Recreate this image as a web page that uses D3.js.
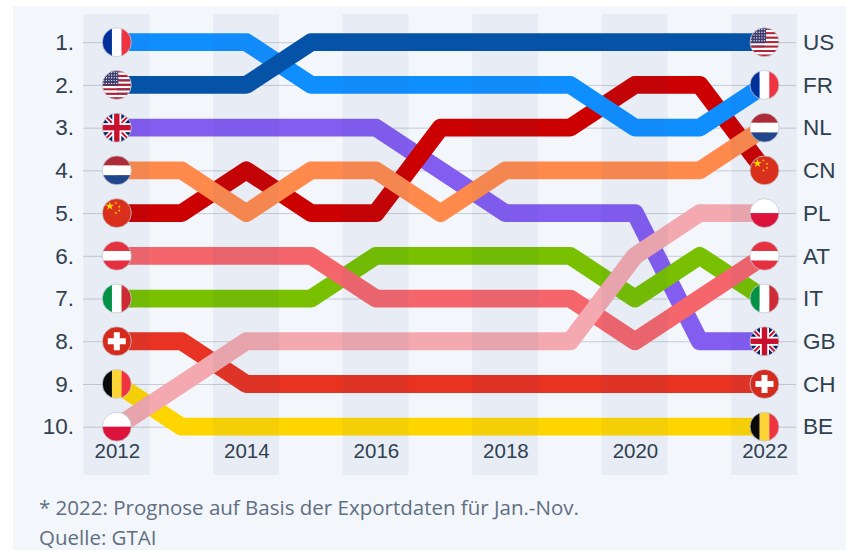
<!DOCTYPE html>
<html>
<head>
<meta charset="utf-8">
<script src="https://cdn.jsdelivr.net/npm/d3@7"></script>
<style>
  html, body { margin: 0; background: #fff; }
  svg { display: block; font-family: "Open Sans", sans-serif; }
  .domain { display: none; }
  .rank-axis line { stroke: #c6ccd5; }
  .rank-axis text, .code-axis text { font-size: 22.5px; fill: #2f4050; }
  .year-axis text { font-size: 20.5px; fill: #2f4050; }
  .note { font-size: 20.5px; fill: #5f6f82; }
</style>
</head>
<body>
<div id="chart"></div>
<script>
const years = [2012, 2013, 2014, 2015, 2016, 2017, 2018, 2019, 2020, 2021, 2022];
const ranks = [1, 2, 3, 4, 5, 6, 7, 8, 9, 10];
const yearTicks = [2012, 2014, 2016, 2018, 2020, 2022];
const bandYears = [2012, 2014, 2016, 2018, 2020, 2022];

// drawing order matters, later ones sit on top at the crossings
const codes = ['CH', 'BE', 'GB', 'CN', 'NL', 'FR', 'US', 'IT', 'AT', 'PL'];

const rankFR = [1, 1, 1, 2, 2, 2, 2, 2, 3, 3, 2];
const rankUS = [2, 2, 2, 1, 1, 1, 1, 1, 1, 1, 1];
const rankGB = [3, 3, 3, 3, 3, 4, 5, 5, 5, 8, 8];
const rankNL = [4, 4, 5, 4, 4, 5, 4, 4, 4, 4, 3];
const rankCN = [5, 5, 4, 5, 5, 3, 3, 3, 2, 2, 4];
const rankAT = [6, 6, 6, 6, 7, 7, 7, 7, 8, 7, 6];
const rankIT = [7, 7, 7, 7, 6, 6, 6, 6, 7, 6, 7];
const rankCH = [8, 8, 9, 9, 9, 9, 9, 9, 9, 9, 9];
const rankBE = [9, 10, 10, 10, 10, 10, 10, 10, 10, 10, 10];
const rankPL = [10, 9, 8, 8, 8, 8, 8, 8, 6, 5, 5];

const series = { FR: rankFR, US: rankUS, GB: rankGB, NL: rankNL, CN: rankCN,
                 AT: rankAT, IT: rankIT, CH: rankCH, BE: rankBE, PL: rankPL };

const lineColors = { FR: '#0f8fff', US: '#0553a8', GB: '#835cf0', NL: '#ff8a4c', CN: '#cc0000',
                     AT: '#f4666c', IT: '#78c000', CH: '#e83323', BE: '#ffd500', PL: '#f3a9af' };

const noteLines = ['* 2022: Prognose auf Basis der Exportdaten für Jan.-Nov.', 'Quelle: GTAI'];

const width = 846, height = 550;
const R = 14.5;

const x = d3.scaleLinear().domain([2012, 2022]).range([116.8, 764.5]);
const y = d3.scaleLinear().domain([1, 10]).range([42.2, 426.7]);

const svg = d3.select('#chart').append('svg')
  .attr('width', width)
  .attr('height', height);

const defs = svg.append('defs');
defs.append('clipPath').attr('id', 'disc')
  .append('circle').attr('r', R);

svg.append('rect')
  .attr('x', 13).attr('y', 6)
  .attr('width', width - 13).attr('height', height - 6)
  .attr('fill', '#f3f6fb');

// rank labels + the thin lines running behind everything
svg.append('g')
  .attr('class', 'rank-axis')
  .attr('transform', 'translate(83,0)')
  .call(d3.axisLeft(y).tickValues(ranks).tickFormat(d => d + '.').tickSize(-713).tickPadding(9));

const line = d3.line()
  .x((d, i) => x(years[i]))
  .y(d => y(d));

svg.append('g')
  .attr('fill', 'none')
  .attr('stroke-width', 17.8)
  .attr('stroke-linejoin', 'round')
  .selectAll('path')
  .data(codes)
  .join('path')
    .attr('d', c => line(series[c]))
    .attr('stroke', c => lineColors[c]);

// year bands go over the lines, they darken them a little
svg.append('g')
  .selectAll('rect')
  .data(bandYears)
  .join('rect')
    .attr('x', d => x(d) - 33.3)
    .attr('y', 14)
    .attr('width', 66)
    .attr('height', 461)
    .attr('fill', '#1e4682')
    .attr('fill-opacity', 0.05);

function stripes(g, dir, colors) {
  const s = d3.scaleBand().domain(d3.range(colors.length)).range([-R, R]);
  g.selectAll('rect.stripe')
    .data(colors)
    .join('rect')
      .attr('class', 'stripe')
      .attr('x', (d, i) => dir === 'v' ? s(i) : -R)
      .attr('y', (d, i) => dir === 'h' ? s(i) : -R)
      .attr('width', dir === 'v' ? s.bandwidth() : 2 * R)
      .attr('height', dir === 'h' ? s.bandwidth() : 2 * R)
      .attr('fill', d => d);
}

function star(g, cx, cy, r, fill) {
  const pts = d3.range(10).map(i => {
    const a = i * Math.PI / 5 - Math.PI / 2, q = i % 2 ? r * 0.4 : r;
    return [cx + q * Math.cos(a), cy + q * Math.sin(a)];
  });
  g.append('polygon').attr('points', pts.join(' ')).attr('fill', fill);
}

const flags = {
  FR: g => stripes(g, 'v', ['#00309a', '#ffffff', '#ef3340']),
  NL: g => stripes(g, 'h', ['#ae2b3a', '#ffffff', '#21468b']),
  AT: g => stripes(g, 'h', ['#e5303f', '#ffffff', '#e5303f']),
  IT: g => stripes(g, 'v', ['#009246', '#ffffff', '#ce2b37']),
  BE: g => stripes(g, 'v', ['#0a0a0a', '#fcd436', '#ef3340']),
  PL: g => stripes(g, 'h', ['#ffffff', '#dc143c']),
  CH: g => {
    g.append('rect').attr('x', -R).attr('y', -R).attr('width', 2 * R).attr('height', 2 * R).attr('fill', '#d52b1e');
    g.append('rect').attr('x', -9).attr('y', -3).attr('width', 18).attr('height', 6).attr('fill', '#fff');
    g.append('rect').attr('x', -3).attr('y', -9).attr('width', 6).attr('height', 18).attr('fill', '#fff');
  },
  CN: g => {
    g.append('rect').attr('x', -R).attr('y', -R).attr('width', 2 * R).attr('height', 2 * R).attr('fill', '#d8301c');
    star(g, -7, -7, 4.4, '#ffd500');
    [[-1, -10], [2.5, -6.5], [2.5, -2.5], [-1, 0]].forEach(p => star(g, p[0], p[1], 1.5, '#ffd500'));
  },
  US: g => {
    stripes(g, 'h', d3.range(13).map(i => i % 2 ? '#ffffff' : '#b22234'));
    g.append('rect').attr('x', -R).attr('y', -R).attr('width', 16).attr('height', 15).attr('fill', '#3c3b6e');
    d3.range(5).forEach(r => d3.range(6).forEach(c => {
      g.append('circle').attr('cx', -R + 1.5 + c * 2.6).attr('cy', -R + 1.8 + r * 2.8).attr('r', 0.7).attr('fill', '#e8e8f0');
    }));
  },
  GB: g => {
    g.append('rect').attr('x', -R).attr('y', -R).attr('width', 2 * R).attr('height', 2 * R).attr('fill', '#012169');
    const diag = [[-R, -R, R, R], [-R, R, R, -R]];
    g.selectAll('line.w').data(diag).join('line').attr('class', 'w')
      .attr('x1', d => d[0]).attr('y1', d => d[1]).attr('x2', d => d[2]).attr('y2', d => d[3])
      .attr('stroke', '#fff').attr('stroke-width', 5);
    g.selectAll('line.r').data(diag).join('line').attr('class', 'r')
      .attr('x1', d => d[0]).attr('y1', d => d[1]).attr('x2', d => d[2]).attr('y2', d => d[3])
      .attr('stroke', '#c8102e').attr('stroke-width', 2);
    g.append('rect').attr('x', -R).attr('y', -4.5).attr('width', 2 * R).attr('height', 9).attr('fill', '#fff');
    g.append('rect').attr('x', -4.5).attr('y', -R).attr('width', 9).attr('height', 2 * R).attr('fill', '#fff');
    g.append('rect').attr('x', -R).attr('y', -2.7).attr('width', 2 * R).attr('height', 5.4).attr('fill', '#c8102e');
    g.append('rect').attr('x', -2.7).attr('y', -R).attr('width', 5.4).attr('height', 2 * R).attr('fill', '#c8102e');
  }
};

// a flag at each end of every line
const flagLayer = svg.append('g');
[years[0], years[years.length - 1]].forEach((yr, k) => {
  codes.forEach(c => {
    const rank = series[c][k ? years.length - 1 : 0];
    const g = flagLayer.append('g')
      .attr('transform', `translate(${x(yr)},${y(rank)})`);
    const inner = g.append('g').attr('clip-path', 'url(#disc)');
    flags[c](inner);
    g.append('circle')
      .attr('r', R)
      .attr('fill', 'none')
      .attr('stroke', '#c4c9d0')
      .attr('stroke-width', 0.8);
  });
});

// country codes on the right, read from the 2022 ranks
const codeByRank = new Map(codes.map(c => [series[c][years.length - 1], c]));
svg.append('g')
  .attr('class', 'code-axis')
  .attr('transform', 'translate(795,0)')
  .call(d3.axisRight(y).tickValues(ranks).tickFormat(d => codeByRank.get(d)).tickSize(0).tickPadding(8));

svg.append('g')
  .attr('class', 'year-axis')
  .attr('transform', 'translate(0,443)')
  .call(d3.axisBottom(x).tickValues(yearTicks).tickFormat(d3.format('d')).tickSize(0).tickPadding(0));

svg.selectAll('text.note')
  .data(noteLines)
  .join('text')
    .attr('class', 'note')
    .attr('x', 39)
    .attr('y', (d, i) => 515 + i * 30)
    .text(d => d);
</script>
</body>
</html>
